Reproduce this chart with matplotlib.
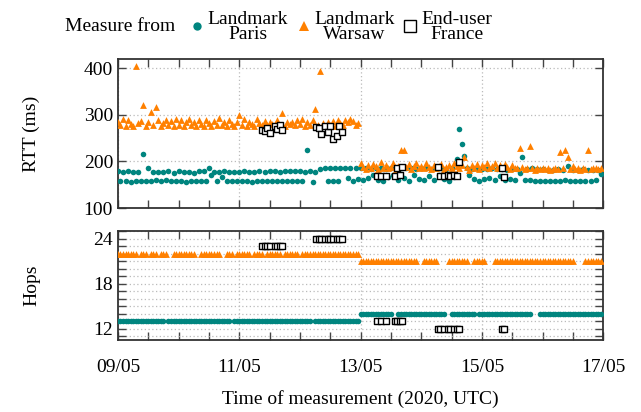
import numpy as np
import pandas as pd
import matplotlib
matplotlib.use("Agg")
import matplotlib.pyplot as plt
import matplotlib.dates as mdates
from matplotlib.lines import Line2D

plt.rcParams['font.family'] = ['Liberation Serif', 'DejaVu Serif']
plt.rcParams['font.size'] = 14

start = pd.Timestamp("2020-05-09 00:00")

# landmark measurements: one every hour, 09/05 00:00 -> 16/05 23:00 (UTC)
lm_hours = list(range(192))

paris_rtt = [
    180, 158, 177, 157, 179, 156, 178, 157, 177, 158, 217, 157, 185, 159, 178, 160, 177, 159, 178, 161, 179, 158, 176, 157,
    180, 157, 178, 156, 178, 158, 176, 157, 180, 158, 179, 157, 185, 172, 178, 158, 177, 166, 180, 157, 178, 159, 177, 158,
    178, 157, 179, 158, 177, 156, 178, 157, 179, 158, 178, 157, 180, 159, 179, 158, 178, 157, 179, 158, 180, 157, 179, 158,
    179, 157, 178, 225, 180, 155, 178, None, 183, None, 186, 157, 185, 158, 186, 157, 185, None, 186, 165, 185, 158, 186, 163,
    185, 160, 186, 165, 184, 172, 185, 161, 186, 158, 183, 167, 185, 171, 186, 160, 185, 164, 187, 159, 185, 170, 184, 162,
    186, 161, 185, 168, 184, 160, 186, 172, 185, 163, 184, 158, 186, 166, 205, 270, 238, 212, 186, 170, 184, 162, 186, 158,
    184, 162, 183, 165, 185, 160, 183, 168, 184, 161, 182, 163, 184, 160, 183, 175, 210, 161, 184, 160, 185, 159, 183, 158,
    183, 158, 182, 157, 181, 159, 183, 158, 182, 160, 190, 157, 181, 158, 182, 159, 183, 157, 181, 158, 182, 160, 181, 174,
]

warsaw_rtt = [
    285, 278, 292, 276, 288, 280, 277, 404, 282, 287, 321, 276, 284, 307, 279, 317, 290, 275, 283, 288, 278, 286, 276, 291,
    279, 288, 276, 284, 292, 278, 285, 275, 289, 281, 277, 290, 283, 276, 287, 279, 293, 278, 284, 276, 288, 280, 277, 285,
    299, 278, 292, 276, 285, 280, 277, 291, 283, 279, 286, 278, 284, 281, 277, 288, 279, 303, 276, 285, 280, 284, 278, 290,
    281, 292, 277, 285, 279, 288, 312, 278, 394, 283, 276, 285, 279, 287, 277, 290, 282, 278, 288, 285, 291, 286, 279, 283,
    197, 188, 183, 192, 186, 195, 190, 184, 198, 187, 193, 185, 189, 196, 184, 191, 225, 224, 188, 194, 183, 190, 196, 186,
    191, 185, 197, 188, 183, 193, 186, 190, 195, 184, 189, 192, 187, 196, 190, 185, 193, 210, 188, 181, 192, 187, 195, 184,
    192, 188, 196, 185, 190, 197, 187, 193, 186, 195, 189, 184, 192, 187, 185, 229, 188, 183, 186, 234, 185, 182, 187, 184,
    185, 183, 186, 182, 184, 187, 183, 221, 185, 225, 210, 184, 190, 183, 185, 182, 186, 184, 225, 183, 187, 185, 184, 186,
]

paris_hops = [13] * 96 + [14] * 96
warsaw_hops = [22] * 96 + [21] * 96
# hours where no traceroute came back
paris_hop_gaps = [19, 45, 77, 109, 110, 130, 131, 142, 164, 165, 166]
warsaw_hop_gaps = [8, 12, 16, 20, 21, 31, 32, 41, 42, 46, 53, 58, 65, 72,
                   119, 120, 127, 128, 129, 130, 139, 140, 146, 147, 148, 181, 182, 183, 184]

# end-user (France) measurements
eu_hours = [57, 58, 59, 60, 62, 63, 64, 65,
            78.5, 79.5, 80.5, 82, 83, 84, 85, 86.5, 87.5, 88.5,
            102.5, 104, 106, 109.5, 110.5, 111.5, 112.5,
            126.5, 127.5, 129, 130.5, 131.5, 133, 134, 135,
            152, 152.7]
eu_rtt = [268, 266, 272, 262, 275, 270, 278, 268,
          273, 272, 258, 276, 264, 276, 248, 255, 277, 263,
          168, 169, 168, 169, 187, 171, 188,
          189, 168, 169, 170, 168, 170, 169, 198,
          186, 167]
eu_hops = [23, 23, 23, 23, 23, 23, 23, 23,
           24, 24, 24, 24, 24, 24, 24, 24, 24, 24,
           13, 13, 13, 13, 13, 13, 13,
           12, 12, 12, 12, 12, 12, 12, 12,
           12, 12]

teal = '#00857f'
orange = '#ff8000'


def to_time(hours):
    return start + pd.to_timedelta(hours, unit='h')


def masked(values, gaps):
    arr = np.array(values, dtype=float)
    arr[gaps] = np.nan
    return arr


t_lm = to_time(lm_hours)
t_eu = to_time(eu_hours)
p_rtt = np.array(paris_rtt, dtype=float)
w_rtt = np.array(warsaw_rtt, dtype=float)
p_hops = masked(paris_hops, paris_hop_gaps)
w_hops = masked(warsaw_hops, warsaw_hop_gaps)

fig = plt.figure(figsize=(6.41, 4.12), dpi=100)
ax1 = fig.add_axes([0.184, 0.495, 0.757, 0.362])
ax2 = fig.add_axes([0.184, 0.175, 0.757, 0.264])

for ax in (ax1, ax2):
    ax.set_xlim(start, start + pd.Timedelta(days=8))
    ax.xaxis.set_major_locator(mdates.DayLocator(interval=2))
    ax.xaxis.set_minor_locator(mdates.HourLocator(byhour=[0, 12]))
    ax.xaxis.set_major_formatter(mdates.DateFormatter('%d/%m'))
    ax.tick_params(which='both', direction='in', top=True, right=True, length=6, width=1, color='#444444')
    for s in ax.spines.values():
        s.set_linewidth(1.3)
        s.set_color('#333333')
    ax.grid(True, which='major', axis='x', color='#bbbbbb', linestyle=(0, (1, 2)), linewidth=0.9)

ax1.scatter(t_lm, p_rtt, s=16, color=teal, linewidths=0, zorder=3)
ax1.scatter(t_lm, w_rtt, s=24, marker='^', color=orange, linewidths=0, zorder=3)
ax1.scatter(t_eu, eu_rtt, s=18, marker='s', facecolors='white', edgecolors='black', linewidths=1.0, zorder=4)
ax1.set_ylim(100, 420)
ax1.set_yticks([100, 200, 300, 400])
ax1.grid(True, which='major', axis='y', color='#bbbbbb', linestyle=(0, (1, 2)), linewidth=0.9)
ax1.tick_params(labelbottom=False)
ax1.set_ylabel('RTT (ms)')
ax1.yaxis.set_label_coords(-0.16, 0.5)

ax2.scatter(t_lm, p_hops, s=16, color=teal, linewidths=0, zorder=3)
ax2.scatter(t_lm, w_hops, s=24, marker='^', color=orange, linewidths=0, zorder=3)
ax2.scatter(t_eu, eu_hops, s=18, marker='s', facecolors='white', edgecolors='black', linewidths=1.0, zorder=4)
ax2.set_ylim(10.5, 25)
ax2.set_yticks([12, 18, 24])
ax2.set_yticks(range(11, 26), minor=True)
ax2.grid(True, which='both', axis='y', color='#bbbbbb', linestyle=(0, (1, 2)), linewidth=0.9)
ax2.set_ylabel('Hops')
ax2.yaxis.set_label_coords(-0.16, 0.5)
ax2.set_xlabel('Time of measurement (2020, UTC)', labelpad=10)
ax2.tick_params(axis='x', pad=14)

handles = [
    Line2D([], [], linestyle='none', marker='o', markersize=6, color=teal, markeredgewidth=0),
    Line2D([], [], linestyle='none', marker='^', markersize=7, color=orange, markeredgewidth=0),
    Line2D([], [], linestyle='none', marker='s', markersize=8, markerfacecolor='white',
           markeredgecolor='black', markeredgewidth=1),
]
labels = ['Landmark\nParis', 'Landmark\nWarsaw', 'End-user\nFrance']
fig.text(0.101, 0.935, 'Measure from', ha='left', va='center')
leg = fig.legend(handles, labels, loc='center left', bbox_to_anchor=(0.283, 0.935), ncol=3,
                 frameon=False, handlelength=0.6, handletextpad=0.25, columnspacing=0.5,
                 borderpad=0, labelspacing=0)
for t in leg.get_texts():
    t.set_multialignment('center')
    t.set_linespacing(0.85)

fig.savefig('out.png', dpi=100)
